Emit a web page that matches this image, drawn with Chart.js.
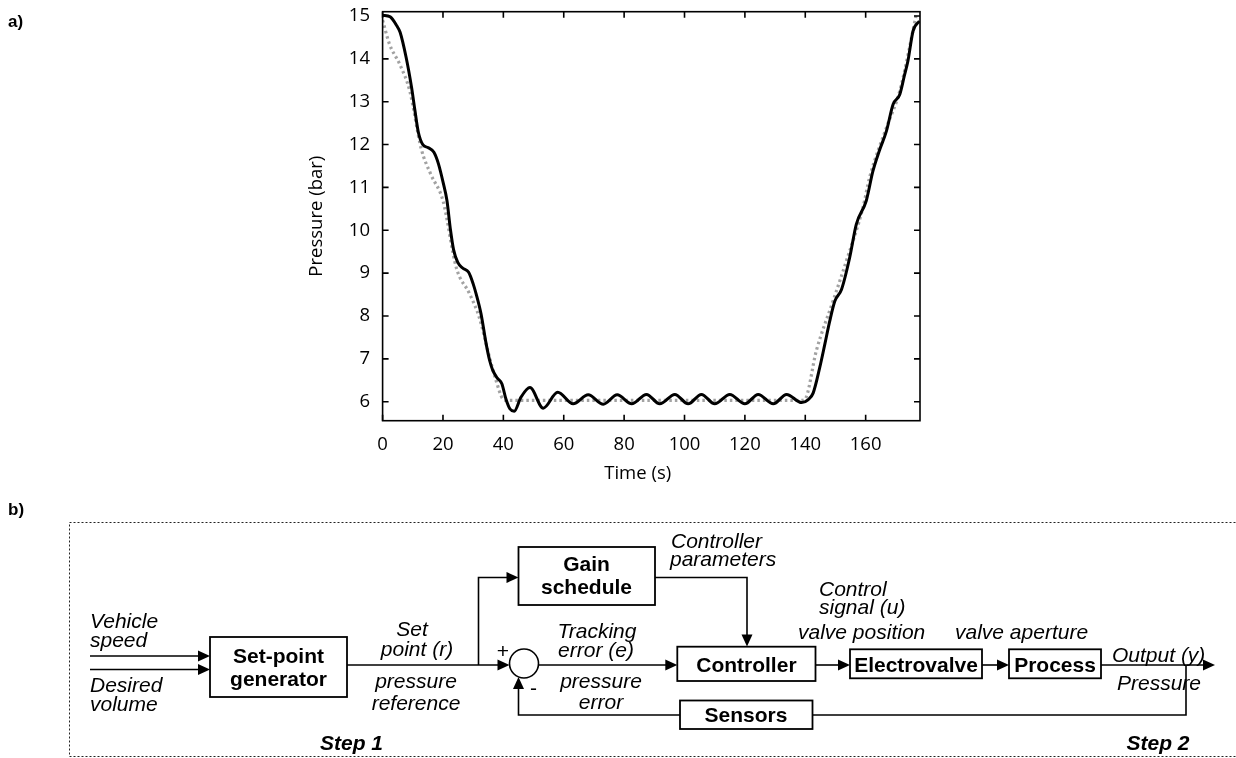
<!DOCTYPE html>
<html>
<head>
<meta charset="utf-8">
<script src="https://cdn.jsdelivr.net/npm/chart.js@4.4.1/dist/chart.umd.min.js"></script>
<style>
  html, body { margin: 0; padding: 0; background: #fff; }
  body { width: 1236px; height: 758px; position: relative; overflow: hidden; }
  #plot { position: absolute; left: 0; top: 0; width: 1236px; height: 500px; }
  #diagram { position: absolute; left: 0; top: 0; }
  #diagram text { font-family: "Liberation Sans", Arial, sans-serif; font-size: 21px; fill: #000; }
  #diagram .it { font-style: italic; }
  #diagram .bd { font-weight: bold; }
  #diagram .tag { font-size: 17px; font-weight: bold; }
</style>
</head>
<body>
<div id="plot"><canvas id="c"></canvas></div>
<svg id="diagram" width="1236" height="758"></svg>
<script>
// Panel a) — measured pressure (solid) vs set-point reference (dotted)
const timeMeasured = [0, 2.5, 4.7, 5.8, 7.8, 9.6, 10.7, 11.8, 13.3, 15, 17, 18.5, 20.1, 21.3, 22.5,
  23.5, 24.9, 26.5, 28.5, 30, 31, 32.6, 34.3, 35.5, 36.5, 38, 39.5, 40.9, 42.2, 43.6,
  45.8, 48.8, 53.2, 58, 63.1, 68.1, 73.1, 77.7, 82.5, 87.4, 91.8, 96.8, 101.2, 105.6, 110,
  115, 120, 124.4, 129.4, 133.8, 138.8, 141, 142.6, 144.8, 146.5, 148.1, 149.8, 152, 154.7,
  156.9, 160.2, 162.4, 164.5, 166.9, 169.1, 171.3, 172.8, 174, 175.7, 177.8];
const pressureMeasured = [15.02, 14.98, 14.77, 14.62, 14.03, 13.33, 12.8, 12.3, 12.0, 11.93, 11.82, 11.55, 11.1, 10.7, 10.0,
  9.55, 9.25, 9.12, 9.02, 8.75, 8.51, 8.05, 7.35, 6.95, 6.73, 6.55, 6.42, 6.05, 5.83, 5.78,
  6.1, 6.33, 5.85, 6.22, 5.95, 6.16, 5.94, 6.16, 5.95, 6.17, 5.95, 6.17, 5.95, 6.17, 5.95,
  6.17, 5.95, 6.17, 5.95, 6.17, 5.98, 6.05, 6.2, 6.8, 7.35, 7.88, 8.35, 8.62, 9.36,
  10.14, 10.69, 11.38, 11.85, 12.32, 12.94, 13.17, 13.6, 13.95, 14.65, 14.88];
const timeReference = [0, 2.3, 5.7, 9, 12.8, 16, 20, 24.4, 28.8, 32, 35.4, 37.6, 39.8, 41.5,
  138, 139.8, 143.7, 149.2, 153.6, 159.1, 161.3, 166.9, 171.3, 176.8];
const pressureReference = [14.9, 14.34, 13.87, 13.25, 11.9, 11.3, 10.69, 9.13, 8.52, 7.97, 7.04, 6.49, 6.07, 6.03,
  6.03, 6.05, 7.2, 8.35, 9.28, 10.53, 11.23, 12.4, 13.25, 15.04];
const xTicks = [0, 20, 40, 60, 80, 100, 120, 140, 160];
const yTicks = [6, 7, 8, 9, 10, 11, 12, 13, 14, 15];
const xTitle = "Time (s)";

const pts = (xs, ys) => xs.map((x, i) => ({ x, y: ys[i] }));
const tickFont = { family: "'Open Sans', sans-serif", size: 18.5 };

// full box round the plot with short inward ticks on all four sides,
// plus the x title, which sits left of the axis centre in the original
const frameTicks = {
  id: "frameTicks",
  afterDatasetsDraw(chart) {
    const { ctx, chartArea: a, scales: { x, y } } = chart;
    const len = 6;
    ctx.save();
    ctx.strokeStyle = "#000";
    ctx.lineWidth = 1.6;
    ctx.strokeRect(a.left, a.top, a.right - a.left, a.bottom - a.top);
    ctx.beginPath();
    x.ticks.forEach(t => {
      const px = x.getPixelForValue(t.value);
      ctx.moveTo(px, a.bottom); ctx.lineTo(px, a.bottom - len);
      ctx.moveTo(px, a.top); ctx.lineTo(px, a.top + len);
    });
    y.ticks.forEach(t => {
      const py = y.getPixelForValue(t.value);
      ctx.moveTo(a.left, py); ctx.lineTo(a.left + len, py);
      ctx.moveTo(a.right, py); ctx.lineTo(a.right - len, py);
    });
    ctx.stroke();
    ctx.fillStyle = "#000";
    ctx.font = `${tickFont.size}px ${tickFont.family}`;
    ctx.textAlign = "center";
    ctx.textBaseline = "middle";
    ctx.fillText(xTitle, x.getPixelForValue(84.5), a.bottom + 53.5);
    ctx.restore();
  }
};

new Chart(document.getElementById("c"), {
  type: "line",
  data: {
    datasets: [
      {
        data: pts(timeMeasured, pressureMeasured),
        borderColor: "#000",
        borderWidth: 3,
        cubicInterpolationMode: "monotone",
        pointRadius: 0,
      },
      {
        data: pts(timeReference, pressureReference),
        borderColor: "#a2a2a2",
        borderWidth: 3.2,
        borderDash: [2.5, 3],
        cubicInterpolationMode: "monotone",
        pointRadius: 0,
      },
    ],
  },
  options: {
    responsive: true,
    maintainAspectRatio: false,
    animation: false,
    layout: { padding: { left: 290, right: 316, top: 11.7, bottom: 0 } },
    plugins: { legend: { display: false }, tooltip: { enabled: false } },
    scales: {
      x: {
        type: "linear",
        min: 0,
        max: 178,
        grid: { display: false, drawTicks: false },
        border: { display: false },
        afterBuildTicks: s => { s.ticks = xTicks.map(v => ({ value: v })); },
        afterFit: s => { s.height = 79.3; s.paddingLeft = 0; s.paddingRight = 0; },
        ticks: { color: "#000", font: tickFont, padding: 13, maxRotation: 0 },
      },
      y: {
        min: 5.557,
        max: 15.1,
        grid: { display: false, drawTicks: false },
        border: { display: false },
        afterBuildTicks: s => { s.ticks = yTicks.map(v => ({ value: v })); },
        afterFit: s => { s.width = 92.6; s.paddingTop = 0; s.paddingBottom = 0; },
        ticks: { color: "#000", font: tickFont, padding: 12.6 },
        title: { display: true, text: "Pressure (bar)", color: "#000", font: tickFont, padding: { top: 15.9, bottom: 0 } },
      },
    },
  },
  plugins: [frameTicks],
});

// Panel b) — control loop block diagram (plain SVG, not chart data)
const svg = document.getElementById("diagram");
const NS = "http://www.w3.org/2000/svg";
function el(name, attrs, text) {
  const e = document.createElementNS(NS, name);
  for (const k in attrs) e.setAttribute(k, attrs[k]);
  if (text != null) e.textContent = text;
  svg.appendChild(e);
  return e;
}
const stroke = { stroke: "#000", "stroke-width": 1.6, fill: "none" };
function line(pts) { el("polyline", { points: pts.map(p => p.join(",")).join(" "), ...stroke }); }
function box(x, y, w, h) { el("rect", { x, y, width: w, height: h, stroke: "#000", "stroke-width": 1.8, fill: "#fff" }); }
function head(x, y, dir, L = 12, W = 5.5) {
  let p;
  if (dir === "r") p = [[x, y], [x - L, y - W], [x - L, y + W]];
  if (dir === "u") p = [[x, y], [x - W, y + L], [x + W, y + L]];
  if (dir === "d") p = [[x, y], [x - W, y - L], [x + W, y - L]];
  el("polygon", { points: p.map(q => q.join(",")).join(" "), fill: "#000" });
}
function txt(s, x, y, cls, anchor = "start") { el("text", { x, y, class: cls, "text-anchor": anchor }, s); }

el("rect", { x: 69.5, y: 522.5, width: 1190, height: 234, fill: "none", stroke: "#222", "stroke-width": 1, "stroke-dasharray": "2,2" });

// inputs
line([[90, 656], [200, 656]]); head(210, 656, "r");
line([[90, 669.5], [200, 669.5]]); head(210, 669.5, "r");
box(210, 637, 137, 60);
// reference path and branch to gain schedule
line([[347, 665], [499, 665]]); head(509.5, 665, "r");
line([[478.5, 665], [478.5, 577.5], [508, 577.5]]); head(518.5, 577.5, "r");
box(518.5, 547, 136.5, 58);
el("circle", { cx: 524, cy: 663.5, r: 14.5, ...stroke });
// error to controller
line([[538.5, 665], [667, 665]]); head(677.3, 665, "r");
line([[655, 577.5], [747, 577.5], [747, 636]]); head(747, 646.5, "d");
box(677.3, 646.7, 138.2, 34.3);
line([[815.5, 665], [840, 665]]); head(850, 665, "r");
box(850, 649.3, 132, 29);
line([[982, 665], [999, 665]]); head(1009, 665, "r");
box(1009, 649.3, 92, 29);
line([[1101, 665], [1205, 665]]); head(1215, 665, "r");
// feedback through sensors
line([[1186, 665], [1186, 715], [812.5, 715]]);
box(680, 700.5, 132.5, 28.5);
line([[680, 715], [518.5, 715], [518.5, 688]]); head(518.5, 677, "u");

txt("+", 503, 658, "", "middle");
txt("-", 533.5, 695, "", "middle");

txt("Vehicle", 90, 628, "it"); txt("speed", 90, 647, "it");
txt("Desired", 90, 692, "it"); txt("volume", 90, 711, "it");
txt("Set", 412, 636, "it", "middle"); txt("point (r)", 417, 656, "it", "middle");
txt("pressure", 416, 688, "it", "middle"); txt("reference", 416, 710, "it", "middle");
txt("Tracking", 597, 638, "it", "middle"); txt("error (e)", 596, 657, "it", "middle");
txt("pressure", 601, 688, "it", "middle"); txt("error", 601, 709, "it", "middle");
txt("Controller", 671, 548, "it"); txt("parameters", 670, 566, "it");
txt("Control", 819, 596, "it"); txt("signal (u)", 819, 614, "it");
txt("valve position", 798, 639, "it"); txt("valve aperture", 955, 639, "it");
txt("Output (y)", 1112, 662, "it"); txt("Pressure", 1117, 690, "it");

txt("Set-point", 278.5, 663, "bd", "middle"); txt("generator", 278.5, 686, "bd", "middle");
txt("Gain", 586.5, 571, "bd", "middle"); txt("schedule", 586.5, 594, "bd", "middle");
txt("Controller", 746.4, 672, "bd", "middle");
txt("Electrovalve", 916, 672, "bd", "middle");
txt("Process", 1055, 672, "bd", "middle");
txt("Sensors", 746, 722, "bd", "middle");
txt("Step 1", 351.5, 750, "bd it", "middle");
txt("Step 2", 1158, 750, "bd it", "middle");

txt("a)", 8, 27, "tag");
txt("b)", 8, 515, "tag");
</script>
</body>
</html>
